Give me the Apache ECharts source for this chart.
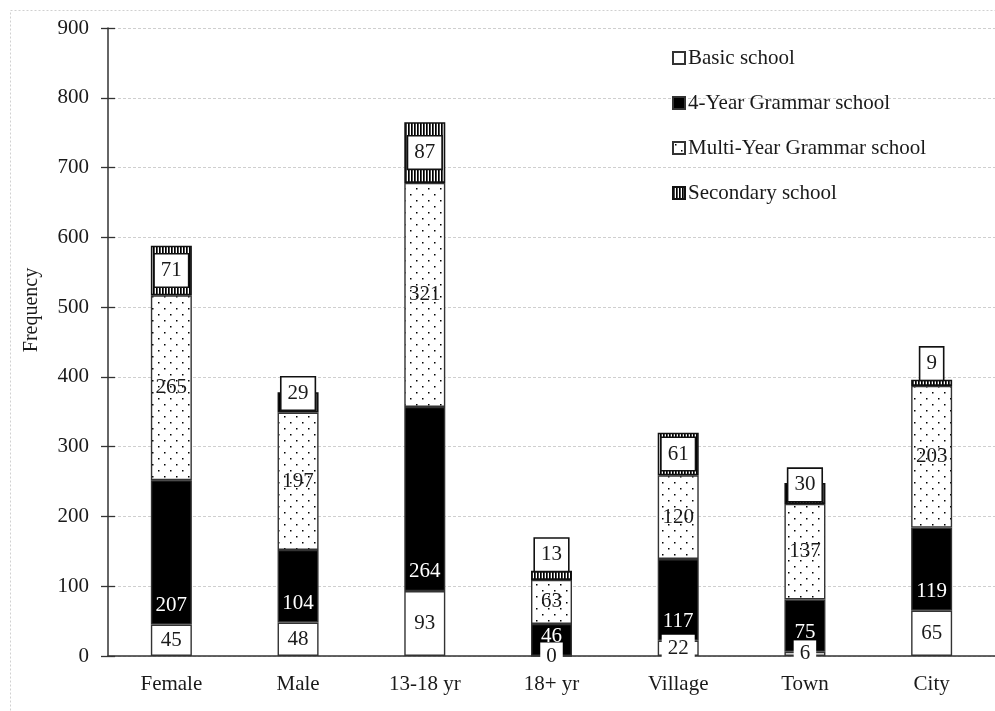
<!DOCTYPE html>
<html>
<head>
<meta charset="utf-8">
<script src="https://cdn.jsdelivr.net/npm/echarts@6/dist/echarts.min.js"></script>
<style>html,body{margin:0;padding:0;background:#fff}#c{width:995px;height:711px}</style>
</head>
<body>
<div id="c"></div>
<script>
const categories = ['Female', 'Male', '13-18 yr', '18+ yr', 'Village', 'Town', 'City'];
const seriesNames = ['Basic school', '4-Year Grammar school', 'Multi-Year Grammar school', 'Secondary school'];
const basic = [45, 48, 93, 0, 22, 6, 65];
const fourYear = [207, 104, 264, 46, 117, 75, 119];
const multiYear = [265, 197, 321, 63, 120, 137, 203];
const secondary = [71, 29, 87, 13, 61, 30, 9];
const yTicks = { min: 0, max: 900, interval: 100 };

const FONT = 'Liberation Serif';
const FS = 21;
const TXT = '#1a1a1a';

function dotPattern() {
  const c = document.createElement('canvas');
  c.width = 12; c.height = 12;
  const g = c.getContext('2d');
  g.fillStyle = '#fff'; g.fillRect(0, 0, 12, 12);
  g.fillStyle = '#000';
  g.fillRect(2, 2, 1.5, 1.5);
  g.fillRect(8, 8, 1.5, 1.5);
  return c;
}
function stripePattern() {
  const c = document.createElement('canvas');
  c.width = 3; c.height = 4;
  const g = c.getContext('2d');
  g.fillStyle = '#fff'; g.fillRect(0, 0, 3, 4);
  g.fillStyle = '#000'; g.fillRect(0, 0, 1.7, 4);
  return c;
}

const border = { borderColor: '#333', borderWidth: 1.4 };
const baseText = { fontFamily: FONT, fontSize: FS, color: TXT, textBorderWidth: 0, textShadowBlur: 0 };

function secLabel(v) {
  const common = Object.assign({}, baseText, {
    show: true, backgroundColor: '#fff', borderColor: '#111', borderWidth: 1.6,
    padding: [5, 6], lineHeight: 22
  });
  if (v < 20) return Object.assign(common, { position: 'top', distance: 0 });
  if (v < 35) return Object.assign(common, { position: 'insideBottom', distance: 3 });
  return Object.assign(common, { position: 'inside' });
}

const chart = echarts.init(document.getElementById('c'), null, { renderer: 'canvas' });
chart.setOption({
  animation: false,
  backgroundColor: '#fff',
  grid: { left: 108, right: 0, top: 28, bottom: 55, containLabel: false },
  legend: {
    orient: 'vertical', left: 667, top: 41,
    itemWidth: 12, itemHeight: 12, itemGap: 21,
    data: seriesNames,
    textStyle: { fontFamily: FONT, fontSize: FS, color: TXT, lineHeight: 24, padding: [0, 0, 0, -2] },
    icon: 'rect'
  },
  xAxis: {
    type: 'category', data: categories,
    axisLine: { lineStyle: { color: '#333', width: 1.5 } },
    axisTick: { show: false },
    axisLabel: { fontFamily: FONT, fontSize: FS, color: TXT, margin: 18 }
  },
  yAxis: [{
    type: 'value', min: yTicks.min, max: yTicks.max, interval: yTicks.interval,
    axisLine: { show: true, lineStyle: { color: '#333', width: 1.5 } },
    axisTick: { show: true, length: 7, lineStyle: { color: '#333', width: 1.3 } },
    axisLabel: { fontFamily: FONT, fontSize: FS, color: TXT, margin: 19 },
    splitLine: { show: true, lineStyle: { color: '#cfcfcf', type: [3, 2], width: 1 } }
  }, {
    type: 'value', position: 'left', min: yTicks.min, max: yTicks.max, interval: yTicks.interval,
    axisLine: { show: false },
    axisTick: { show: true, inside: true, length: 7, lineStyle: { color: '#333', width: 1.3 } },
    axisLabel: { show: false },
    splitLine: { show: false }
  }],
  graphic: [
    { type: 'rect', silent: true, z: -10, shape: { x: 10.5, y: 10.5, width: 1000, height: 720 },
      style: { fill: 'none', stroke: '#d0d0d0', lineWidth: 1, lineDash: [2, 2] } },
    { type: 'text', x: 32, y: 310, rotation: Math.PI / 2,
      style: { text: 'Frequency', fontFamily: FONT, fontSize: 20, fill: TXT, align: 'center', verticalAlign: 'middle' } }
  ],
  series: [
    {
      name: seriesNames[0], type: 'bar', stack: 'a', barWidth: 41, data: basic,
      itemStyle: Object.assign({ color: '#fff' }, border),
      label: Object.assign({}, baseText, { show: true, position: 'inside', backgroundColor: '#fff', padding: [3, 6] })
    },
    {
      name: seriesNames[1], type: 'bar', stack: 'a', barWidth: 41, data: fourYear,
      itemStyle: Object.assign({ color: '#000' }, border),
      label: Object.assign({}, baseText, { show: true, position: 'insideBottom', distance: 9, color: '#fff' })
    },
    {
      name: seriesNames[2], type: 'bar', stack: 'a', barWidth: 41, data: multiYear,
      itemStyle: Object.assign({ color: { image: dotPattern(), repeat: 'repeat' } }, border),
      label: Object.assign({}, baseText, { show: true, position: 'inside' })
    },
    {
      name: seriesNames[3], type: 'bar', stack: 'a', barWidth: 41,
      data: secondary.map(v => ({ value: v, label: secLabel(v) })),
      itemStyle: Object.assign({ color: { image: stripePattern(), repeat: 'repeat' } }, border, { borderColor: '#111', borderWidth: 1.6 }),
      label: { show: true }
    }
  ]
});
</script>
</body>
</html>
